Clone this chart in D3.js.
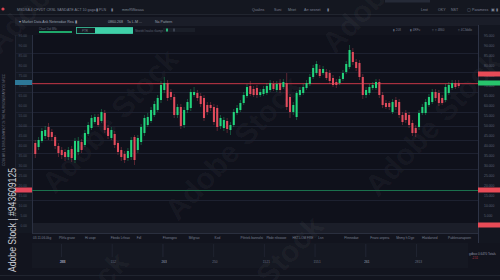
<!DOCTYPE html>
<html>
<head>
<meta charset="utf-8">
<script src="https://cdn.jsdelivr.net/npm/d3@7"></script>
<style>
  body { margin: 0; background: #12141d; }
  svg { display: block; font-family: "Liberation Sans", Arial, sans-serif; }
</style>
</head>
<body>
<svg id="chart" width="500" height="280"></svg>
<script>
// candle values (arbitrary price units)
var opens  = [41,39,42,44.5,49,46.5,44,39.5,37.5,36.5,34,38,32.5,36.5,41.5,40,45.5,48.5,51.5,54,52,56,48.5,43.5,45.5,41,37.5,35.5,33.5,34,44,37.5,41.5,46,50,52,55,57.5,62.5,67.5,71,66.5,64,55,59,50,57.5,58.5,65,66,64.5,63.5,60,60,59,58.5,49.5,48.5,52,47.5,50,56,57.5,61,64.5,69.5,68,68.5,65,65.5,66,67.5,70.5,67.5,71,69,71,64,56.5,54,65,66,68.5,70.5,74,76,78,76,76.5,76,73.5,71.5,71,73,76.5,79,86.5,81.5,81,74,65,66,68.5,68.5,71.5,65,61,61,56.5,62.5,61.5,55,56,55,51,48.5,49,56,56,60,61.5,66.5,66,63.5,62.5,66,68.5,71,71];
var closes = [35.5,42.5,47,47.5,44,44,39.5,36,35,34,37.5,33.5,42,42,37.5,46,50,53.5,54,50,56.5,47.5,44.5,47.5,40,36.5,34,32.5,37,42.5,32.5,43.5,49,53.5,54,57.5,60.5,63.5,70,71,63.5,64,55,59,49.5,57.5,61.5,66.5,66.5,63.5,60.5,53.5,56.5,58.5,51.5,49,53.5,52.5,48,50,56.5,58.5,61,65,69,65.5,65,65,66.5,68,69.5,71,68,70.5,67.5,71.5,59,56.5,60,66,67.5,69,71,74,78.5,80.5,74.5,78,73.5,72,70,70,73,76,80.5,87.5,81.5,78.5,74,65,67.5,69,70,71.5,65,60,59,59,61.5,59,55,51.5,52.5,50,46,46,56,59,61.5,64,66.5,63.5,61,61,69,70,71,69,69.5];
var highs  = [42.5,44,48.5,49.5,51,48,45,41,39,38,39,39.5,43.5,44,43,47.5,51.5,55,55.5,55.5,58,57.5,50,49,47,42,39,37,38.5,44,45,45,50.5,55,56,59,62,65,72,74,72.5,68,65.5,60.5,60.5,59,63,68,69,67.5,66,65,61.5,61.5,60.5,60,55,54,53.5,51.5,58,60,62.5,66.5,70.5,72,69.5,70,68,69.5,71,72.5,72,72,73,73,76,65.5,61.5,67,69,70.5,72.5,75.5,80,82,80,79.5,78,77.5,75,73,74.5,77.5,82,90,88.5,83,82.5,75.5,69,70.5,71.5,73,73,66.5,62.5,62,63,64,63,56.5,57.5,56.5,52.5,50,57.5,60.5,63,65.5,68,68,67.5,65,70.5,71.5,72.5,72.5,72.5];
var lows   = [33.5,37.5,41,43,42.5,42,38,34,33,32,32.5,31.5,31,35,36,39,44.5,47.5,50.5,49,51,46,43,42.5,38.5,35,32,31,32,32.5,30,36,40,44.5,49,51,54,56.5,61,66,62,62.5,53.5,53.5,48,48.5,56,57,64,62,59,52,55,57,50,47,48,47,46,45,49,55,56.5,60,63.5,64.5,64,63.5,64,64.5,65,66.5,67,66.5,66,68,57.5,53.5,55,52.5,64,65,67.5,69.5,73,75,73.5,75,72.5,70.5,69,68.5,70,72,75.5,78,80,77,72.5,63,63.5,65,67.5,67.5,63.5,58.5,58,57.5,55.5,57.5,53.5,50,51,48.5,44.5,44,47.5,55,55,59,60.5,62,59.5,60,61.5,65,67.5,68,68.5];

var resistance = 71;     // red horizontal level
var support = 17.75;     // green horizontal level
var gridPrices = [86, 76.5, 66.5, 56.5, 49.5, 42.5, 36, 28, 12.5];
var rightMarks = [{v: 75.5, c: "#e84b57"}, {v: 71, c: "#27c46c"}, {v: 17.5, c: "#e84b57"}, {v: 0, c: "#e84b57"}];

var timeLabels = ["03.11.06.0kg", "Pllrfa grase", "Hi usqe", "Fbedo Lrfeao", "Fdl", "Fhonsgeo", "Mrlgrao", "Kod",
  "Ptlntek bannolsi", "Pbde nfeoooe", "HKT.LOM FRE", "Lsn", "Fhnnedae", "Fnaro anpera", "Mnmy h Dge", "Hlatdarsed", "Pabknsanapoen"];
var lowerLabels = ["283", "152", "263", "250", "283", "1521", "263", "283", "283", "1551", "283", "261", "283", "261", "2813"];

var svg = d3.select("#chart"),
    width = +svg.attr("width"),
    height = +svg.attr("height");

var plot = {left: 32, right: 478, top: 35, bottom: 223};

var x = d3.scaleBand()
    .domain(d3.range(opens.length))
    .range([plot.left + 1, plot.right - 17])
    .padding(0.38);

var y = d3.scaleLinear()
    .domain([0, 95])
    .range([plot.bottom + 2, plot.top]);

// backgrounds
svg.append("rect").attr("width", width).attr("height", height).attr("fill", "#12141e");
svg.append("rect").attr("x", 0).attr("y", 0).attr("width", width).attr("height", 14).attr("fill", "#141720");
svg.append("line").attr("x1", 0).attr("x2", width).attr("y1", 14.5).attr("y2", 14.5).attr("stroke", "#21252f");
svg.append("rect").attr("x", 15).attr("y", 17).attr("width", 485).attr("height", 9).attr("fill", "#1a1d28");
svg.append("rect").attr("x", plot.left).attr("y", plot.top).attr("width", plot.right - plot.left)
    .attr("height", plot.bottom - plot.top).attr("fill", "#0f111b");
svg.append("rect").attr("x", 15).attr("y", plot.top).attr("width", plot.left - 15)
    .attr("height", 233 - plot.top).attr("fill", "#141822");
svg.append("rect").attr("x", plot.right).attr("y", 25).attr("width", width - plot.right)
    .attr("height", 218).attr("fill", "#131620");
svg.append("rect").attr("x", plot.left).attr("y", 223).attr("width", plot.right - plot.left)
    .attr("height", 10).attr("fill", "#1b1e29");
svg.append("rect").attr("x", plot.left).attr("y", 243).attr("width", 436)
    .attr("height", 25).attr("fill", "#151822");

// faint diagonal watermarks
var marks = [[0, 55], [55, 195], [178, 222], [335, 55], [378, 198], [200, 362], [5, 398]];
svg.append("g").selectAll("text").data(marks).enter().append("text")
    .attr("transform", function (d) { return "translate(" + d[0] + "," + d[1] + ") rotate(-47)"; })
    .attr("font-size", 30).attr("font-weight", "bold")
    .attr("fill", "#ffffff").attr("fill-opacity", 0.045)
    .text("Adobe Stock");

// grid
svg.append("g").selectAll("line").data(gridPrices).enter().append("line")
    .attr("x1", 15).attr("x2", plot.right)
    .attr("y1", function (d) { return Math.round(y(d)) + 0.5; })
    .attr("y2", function (d) { return Math.round(y(d)) + 0.5; })
    .attr("stroke", "#1d2130").attr("stroke-width", 1);

svg.append("line").attr("x1", plot.left + 0.5).attr("x2", plot.left + 0.5).attr("y1", plot.top).attr("y2", 233)
    .attr("stroke", "#2a3041");
svg.append("line").attr("x1", 15.5).attr("x2", 15.5).attr("y1", plot.top).attr("y2", 233)
    .attr("stroke", "#1f2330");
svg.append("line").attr("x1", plot.right + 0.5).attr("x2", plot.right + 0.5).attr("y1", 25).attr("y2", 243)
    .attr("stroke", "#2d3345");
svg.append("line").attr("x1", plot.left).attr("x2", plot.right).attr("y1", 233.5).attr("y2", 233.5)
    .attr("stroke", "#2a2f3e");
svg.append("line").attr("x1", 0).attr("x2", width).attr("y1", 275.5).attr("y2", 275.5)
    .attr("stroke", "#20242f");

// price axis labels, left and right
var leftAxis = d3.axisLeft(y).ticks(25).tickSize(0).tickFormat(d3.format(".2f"));
svg.append("g").attr("transform", "translate(30,0)").call(leftAxis)
    .call(function (g) { g.select(".domain").remove(); })
    .selectAll("text").attr("font-size", 3.4).attr("fill", "#4a5163");
var rightAxis = d3.axisRight(y).ticks(25).tickSize(0).tickFormat(d3.format(".3f"));
svg.append("g").attr("transform", "translate(" + (plot.right + 3) + ",0)").call(rightAxis)
    .call(function (g) { g.select(".domain").remove(); })
    .selectAll("text").attr("font-size", 3.4).attr("fill", "#5a6175");

// horizontal levels
svg.append("rect").attr("x", plot.left).attr("y", Math.round(y(resistance)))
    .attr("width", plot.right - plot.left).attr("height", 1.2)
    .attr("fill", "#a8303f");
svg.append("rect").attr("x", plot.left).attr("y", Math.round(y(support)))
    .attr("width", plot.right - plot.left).attr("height", 1)
    .attr("fill", "#1a704c");
svg.append("rect").attr("x", 15).attr("y", y(resistance) - 3).attr("width", 17).attr("height", 5)
    .attr("fill", "#2d7898");
svg.append("rect").attr("x", 15).attr("y", y(support) - 2).attr("width", 17).attr("height", 5)
    .attr("fill", "#e2465a");
svg.selectAll(".rmark").data(rightMarks).enter().append("rect").attr("class", "rmark")
    .attr("x", plot.right).attr("width", width - plot.right).attr("height", 5)
    .attr("y", function (d) { return y(d.v) - 2.5; })
    .attr("fill", function (d) { return d.c; });

// candles
var candles = d3.range(opens.length).map(function (i) {
    return {i: i, o: opens[i], c: closes[i], h: highs[i], l: lows[i]};
});
var color = function (d) { return d.c >= d.o ? "#22d47c" : "#e24b5c"; };
var cg = svg.append("g").selectAll("g").data(candles).enter().append("g");
cg.append("line")
    .attr("x1", function (d) { return x(d.i) + x.bandwidth() / 2; })
    .attr("x2", function (d) { return x(d.i) + x.bandwidth() / 2; })
    .attr("y1", function (d) { return y(d.h); })
    .attr("y2", function (d) { return y(d.l); })
    .attr("stroke", color).attr("stroke-opacity", 0.5).attr("stroke-width", 0.7);
cg.append("rect")
    .attr("x", function (d) { return x(d.i); })
    .attr("width", x.bandwidth())
    .attr("y", function (d) { return y(Math.max(d.o, d.c)); })
    .attr("height", function (d) { return Math.max(1, Math.abs(y(d.o) - y(d.c))); })
    .attr("fill", color);

// top toolbar bits
function tiny(xp, yp, s, size, fill) {
    return svg.append("text").attr("x", xp).attr("y", yp).attr("font-size", size || 3.6)
        .attr("fill", fill || "#7c8293").text(s);
}
svg.append("circle").attr("cx", 3).attr("cy", 9).attr("r", 1.6).attr("fill", "#d9434f");
tiny(17, 11, "MSDSA 4 CFVDT CRSL SANDATE ACT 10 gaga");
tiny(96, 11, "\u25AE PLN");
tiny(111, 11, "\u25AE");
tiny(122, 11, "mmrRWwaaa");
tiny(252, 11, "Qualins");
tiny(274, 11, "Suni");
tiny(288, 11, "Mriet");
tiny(304, 11, "Arr sesnet");
tiny(327, 11, "\u25AE");
tiny(421, 11, "Lnst");
tiny(438, 11, "OKY");
tiny(451, 11, "NST");
tiny(467, 11, "\u25A2 Paramess");
tiny(491, 11, "\u25A3 \u25AE");
svg.append("rect").attr("x", 385).attr("y", 0).attr("width", 45).attr("height", 2.5).attr("fill", "#252a37");

tiny(19, 23, "\u25BE Market Data  Ask  Neterodae Rea \u25AE", 3.6, "#9ba1b0");
tiny(108, 23, "0860.268", 3.6, "#9ba1b0");
tiny(127, 23, "Ta L-M ...", 3.6, "#9ba1b0");
tiny(155, 23, "Na Pattern", 3.6, "#9ba1b0");

svg.append("rect").attr("x", 39).attr("y", 31).attr("width", 33).attr("height", 2).attr("fill", "#1fa86a");
tiny(39, 30, "Chart        1kd  BNc", 2.8, "#5f6678");
svg.append("rect").attr("x", 76.5).attr("y", 27.5).attr("width", 56).attr("height", 6)
    .attr("fill", "#161a22").attr("stroke", "#3cc9a1").attr("stroke-width", 0.8);
svg.append("rect").attr("x", 95).attr("y", 27.5).attr("width", 38).attr("height", 6).attr("fill", "#40d1a9");
tiny(82, 32, "PTR", 3, "#6f7788");
tiny(135, 31.5, "Nbwtdnl lnoalvo rlkamgnoe", 2.6, "#5a6172");
svg.append("rect").attr("x", 163).attr("y", 28).attr("width", 32).attr("height", 4).attr("fill", "#1a1e28");
svg.append("rect").attr("x", 166).attr("y", 28.5).attr("width", 2).attr("height", 3).attr("fill", "#2ab37a");
svg.append("rect").attr("x", 173).attr("y", 28.5).attr("width", 2).attr("height", 3).attr("fill", "#3a4150");
tiny(393, 31, "\u25AE 208", 3, "#6d7485");
tiny(410, 31, "\u25AE 4RFu", 3, "#6d7485");
tiny(432, 31, "\u25AF \u25AF 4860", 3, "#6d7485");
tiny(458, 31, "\u25AF 4C3ddlo", 3, "#6d7485");

// bottom time row and lower panel
var tx = d3.scalePoint().domain(timeLabels).range([plot.left + 1, plot.right - 30]);
svg.append("g").selectAll("text").data(timeLabels).enter().append("text")
    .attr("x", function (d) { return tx(d); }).attr("y", 238.5)
    .attr("font-size", 3.2).attr("fill", "#7a8091").text(function (d) { return d; });
var lx = d3.scalePoint().domain(lowerLabels).range([60, 415]);
svg.append("g").selectAll("line").data(lowerLabels).enter().append("line")
    .attr("x1", function (d) { return lx(d) + 1.5; }).attr("x2", function (d) { return lx(d) + 1.5; })
    .attr("y1", 244).attr("y2", 257).attr("stroke", "#1f2330");
svg.append("g").selectAll("text").data(lowerLabels).enter().append("text")
    .attr("x", function (d) { return lx(d); }).attr("y", 263)
    .attr("font-size", 3.2).attr("fill", "#6b7182").text(function (d) { return d; });
tiny(469, 255, "gdbox 0.6470 Totals", 3, "#8c92a2");
tiny(472, 259, "-2.51", 2.6, "#c0404c");

// side texts
svg.append("text").attr("transform", "translate(5,166) rotate(-90)")
    .attr("font-size", 3).attr("fill", "#6b7182")
    .text("CCSK AR LN DISS ZEMMYOT 2k THE MURSOINERARY DE NRCC");
svg.append("text").attr("transform", "translate(15.5,272) rotate(-90)")
    .attr("font-size", 10.5).attr("fill", "#c9ccd4")
    .attr("textLength", 104).attr("lengthAdjust", "spacingAndGlyphs")
    .text("Adobe Stock | #943609125");
</script>
</body>
</html>
